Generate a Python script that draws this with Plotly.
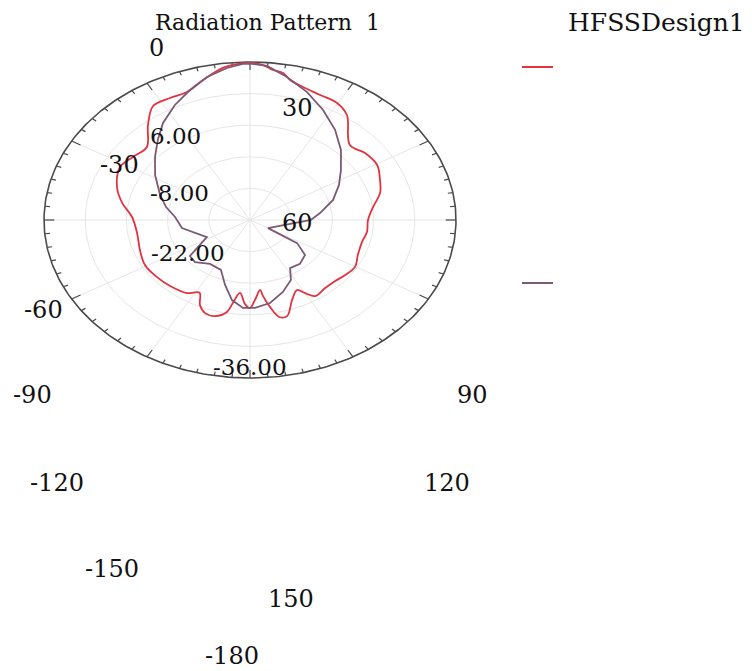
import numpy as np
import plotly.graph_objects as go

# ---------------- data ----------------
# Radiation pattern (theta in degrees, gain in dB)
theta_red = [0, 3.7, 6.7, 9.8, 12.4, 17, 23.3, 29.7, 35.3, 45.6, 52.8, 60.6, 68.1, 74.8,
             82.2, 90, 97.6, 104.3, 113, 120.2, 127, 133, 139.7, 146.7, 150, 152.8, 158,
             163.5, 167, 170, 172.5, 173.7, 177.3, 180, -177.4, -174, -171, -169.1, -164.4,
             -159.7, -155.7, -152, -146.5, -137.1, -128.7, -119.2, -109.6, -98.5, -88.1,
             -80.1, -72.1, -62, -54.9, -47.3, -39.5, -33.1, -26.7, -20.7, -14.4, -7.8, -3.7, 0]
r_red = [19.6, 18.8, 16.9, 16.1, 13.5, 11.6, 10.3, 9.7, 7.0, -2.5, -0.9, -0.4, -2.4, -4.2,
         -7.8, -9.9, -9.9, -10.7, -10.2, -8.7, -9.5, -10.4, -10.5, -9.7, -12.6, -15.1, -11.8,
         -5.6, -5.9, -10.9, -16.0, -18.8, -14.5, -11.0, -12.7, -17.5, -12.8, -8.5, -5.8,
         -6.0, -8.7, -13.5, -11.2, -10.1, -9.5, -9.1, -10.3, -11.2, -9.9,
         -5.9, -2.5, 0.0, -1.4, -2.3, 4.5, 10.3, 10.5, 10.6, 14.0, 18.0, 19.2, 19.6]

theta_pur = [0, 4.9, 11.2, 18.9, 27, 35.9, 44.9, 54.4, 62.8, 72.5, 82.6, 90, 120.4, 122.6,
             129.7, 138.9, 147.4, 152.4, 160.7, 169.5, 177.5, -176.5, -170.2, -163.6, -155.9,
             -145.1, -134.9, -128, -117.3, -105.3, -98.8, -87, -78.6, -70.1, -58.3, -49.1,
             -41.5, -34.5, -26.6, -19.5, -13, -6.6, -2, 0]
r_pur = [19.3, 18.5, 14.6, 9.9, 4.7, -0.7, -6.2, -12.0, -16.0, -20.4, -26.0, -29.3, -42.9, -31.0,
         -25.7, -24.2, -24.7, -20.0, -16.2, -12.6, -11.0, -11.0, -14.0, -20.0, -25.8,
         -26.3, -23.6, -24.1, -33.5, -29.9, -26.6, -24.5, -20.9, -17.5, -12.1, -7.3,
         -2.7, 2.2, 7.0, 11.1, 15.0, 17.8, 19.2, 19.3]

R_MIN, R_MAX = -50, 20
ring_values = [-36, -22, -8, 6]
ring_labels = ["-36.00", "-22.00", "-8.00", "6.00"]
angle_labels = ["0", "30", "-30", "60", "-60", "-90", "90", "-120", "120", "-150", "150", "-180"]
title_text = "Radiation Pattern  1"
design_text = "HFSSDesign1"

# ---------------- layout constants ----------------
W, H = 752, 671
CX, CY, RX, RY = 250, 220, 206, 158   # pixel centre / radii of the elliptic polar frame
FONT = "DejaVu Serif"

def to_xy(theta_deg, r):
    rho = (np.asarray(r, float) - R_MIN) / (R_MAX - R_MIN)
    t = np.radians(np.asarray(theta_deg, float))
    return rho * np.sin(t), rho * np.cos(t)

def px(x, y):
    return x / W, 1 - y / H

fig = go.Figure()

# grid rings
gx, gy = [], []
tt = np.radians(np.linspace(0, 360, 361))
for rv in ring_values:
    rho = (rv - R_MIN) / (R_MAX - R_MIN)
    gx += list(rho * np.sin(tt)) + [None]
    gy += list(rho * np.cos(tt)) + [None]
# spokes every 30 deg
for a in range(0, 360, 30):
    t = np.radians(a)
    gx += [0, np.sin(t), None]
    gy += [0, np.cos(t), None]
fig.add_trace(go.Scatter(x=gx, y=gy, mode="lines", line=dict(color="#e6e6e6", width=1),
                         hoverinfo="skip"))

# ticks on outer frame
tx, ty = [], []
for a in range(0, 360, 5):
    t = np.radians(a)
    inner = 0.95 if a % 30 == 0 else 0.975
    tx += [np.sin(t), inner * np.sin(t), None]
    ty += [np.cos(t), inner * np.cos(t), None]
fig.add_trace(go.Scatter(x=tx, y=ty, mode="lines", line=dict(color="#4a4a4a", width=1.2),
                         hoverinfo="skip"))
# outer frame
fig.add_trace(go.Scatter(x=np.sin(tt), y=np.cos(tt), mode="lines",
                         line=dict(color="#4a4a4a", width=1.6), hoverinfo="skip"))

# patterns
xr, yr = to_xy(theta_red, r_red)
fig.add_trace(go.Scatter(x=xr, y=yr, mode="lines", line=dict(color="#e2333f", width=1.8),
                         line_shape="spline", name="red"))
xp, yp = to_xy(theta_pur, r_pur)
fig.add_trace(go.Scatter(x=xp, y=yp, mode="lines", line=dict(color="#7b5a76", width=1.8),
                         name="purple"))

# text labels (positions in pixels)
ann = []
def add_text(txt, x, y, size):
    xx, yy = px(x, y)
    ann.append(dict(text=txt, x=xx, y=yy, xref="paper", yref="paper", showarrow=False,
                    xanchor="center", yanchor="middle",
                    font=dict(family=FONT, size=size, color="#111111")))

add_text(title_text, 267, 22, 22)
add_text(design_text, 656, 22, 25)
angle_pos = [(156, 48), (297, 108), (119, 165), (297, 223), (43, 310), (32, 395), (472, 395),
             (57, 483), (447, 483), (112, 569), (291, 599), (232, 656)]
for lab, (x, y) in zip(angle_labels, angle_pos):
    add_text(lab, x, y, 24)
ring_pos = [(250, 367), (188, 253), (179, 193), (175, 136)]
for lab, (x, y) in zip(ring_labels, ring_pos):
    add_text(lab, x, y, 23)

# legend line samples
shapes = []
for col, y in [("#e2333f", 67), ("#7b5a76", 283)]:
    x0, yy = px(522, y)
    x1, _ = px(553, y)
    shapes.append(dict(type="line", xref="paper", yref="paper", x0=x0, x1=x1, y0=yy, y1=yy,
                       line=dict(color=col, width=2)))

fig.update_layout(
    width=W, height=H, margin=dict(l=0, r=0, t=0, b=0),
    paper_bgcolor="white", plot_bgcolor="white", showlegend=False,
    xaxis=dict(range=[-CX / RX, (W - CX) / RX], visible=False, fixedrange=True),
    yaxis=dict(range=[-(H - CY) / RY, CY / RY], visible=False, fixedrange=True),
    annotations=ann, shapes=shapes,
)
fig.write_html("out.html")
